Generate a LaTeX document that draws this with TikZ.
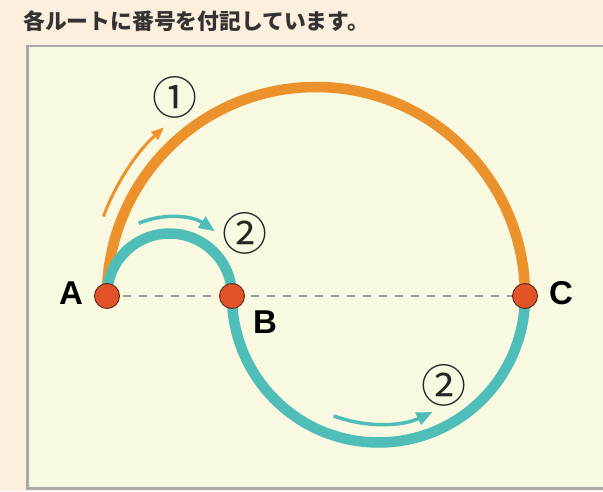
\documentclass[tikz,border=0pt]{standalone}
\usepackage{fontspec}
\setmainfont{Liberation Sans}
\newfontfamily\cjk{Noto Sans CJK JP}
\usetikzlibrary{arrows.meta}
\definecolor{bgpeach}{HTML}{FDEFDE}
\definecolor{boxyellow}{HTML}{F9F9E1}
\definecolor{boxborder}{HTML}{A9A9A6}
\definecolor{routeorange}{HTML}{EB922D}
\definecolor{routeteal}{HTML}{4FBDB8}
\definecolor{dotred}{HTML}{E15429}
\definecolor{dotedge}{HTML}{5C2A1A}
\definecolor{dashgray}{HTML}{9C9CA0}
\definecolor{titlegray}{HTML}{333333}
\tikzset{
  route/.style={line width=10.5pt},
  hint/.style={line width=3.5pt},
  pointdot/.style={circle, fill=dotred, draw=dotedge, line width=0.9pt, minimum size=25pt, inner sep=0pt},
  ptlabel/.style={font=\fontsize{33}{33}\selectfont\bfseries, text=black, inner sep=0pt},
  numlabel/.style={font=\cjk\fontsize{45}{45}\selectfont, text=black!85, inner sep=0pt},
}
\begin{document}
\begin{tikzpicture}[x=1pt,y=1pt]
\useasboundingbox (0,0) rectangle (603,491);
\fill[bgpeach] (0,0) rectangle (603,491);
\begin{scope}
\clip (0,0) rectangle (603,491);
\draw[boxborder, fill=boxyellow, line width=2.5pt] (27.5,2.5) rectangle (640,445);
\end{scope}
\node[anchor=west, inner sep=0pt, text=titlegray, font=\cjk\bfseries\fontsize{21.8}{21.8}\selectfont] (title) at (23,470) {各ルートに番号を付記しています。};
% points
\coordinate (A) at (107,195);
\coordinate (B) at (232,195);
\coordinate (C) at (525,195);
\draw[dashgray, line width=1.6pt, dash pattern=on 8pt off 8pt] (A) -- (C);
% routes
\draw[route, routeorange] (A) arc[start angle=180, end angle=0, radius=209];
\draw[route, routeteal] (A) arc[start angle=180, end angle=0, radius=62.5];
\draw[route, routeteal] (B) arc[start angle=180, end angle=360, radius=146.5];
% hint arrows
\draw[line width=3pt, routeorange, -{Triangle[length=13pt,width=10pt]}]
  ([shift={(159.5:227)}]316,195) arc[start angle=159.5, end angle=132, radius=227];
\draw[hint, routeteal, -{Triangle[length=16pt,width=13pt]}]
  ([shift={(113:79)}]169.5,195) arc[start angle=113, end angle=55, radius=79];
\draw[hint, routeteal, -{Triangle[length=16pt,width=13pt]}]
  ([shift={(-110.5:128)}]378.5,195) arc[start angle=-110.5, end angle=-65, radius=128];
% dots
\node[pointdot] (dA) at (A) {};
\node[pointdot] (dB) at (B) {};
\node[pointdot] (dC) at (C) {};
% labels
\node[ptlabel] (lA) at (71,198) {A};
\node[ptlabel] (lB) at (265,169) {B};
\node[ptlabel] (lC) at (561,198) {C};
\node[numlabel] (n1) at (175,394) {①};
\node[numlabel] (n2a) at (245,258) {②};
\node[numlabel] (n2b) at (444,106) {②};
\end{tikzpicture}
\end{document}
